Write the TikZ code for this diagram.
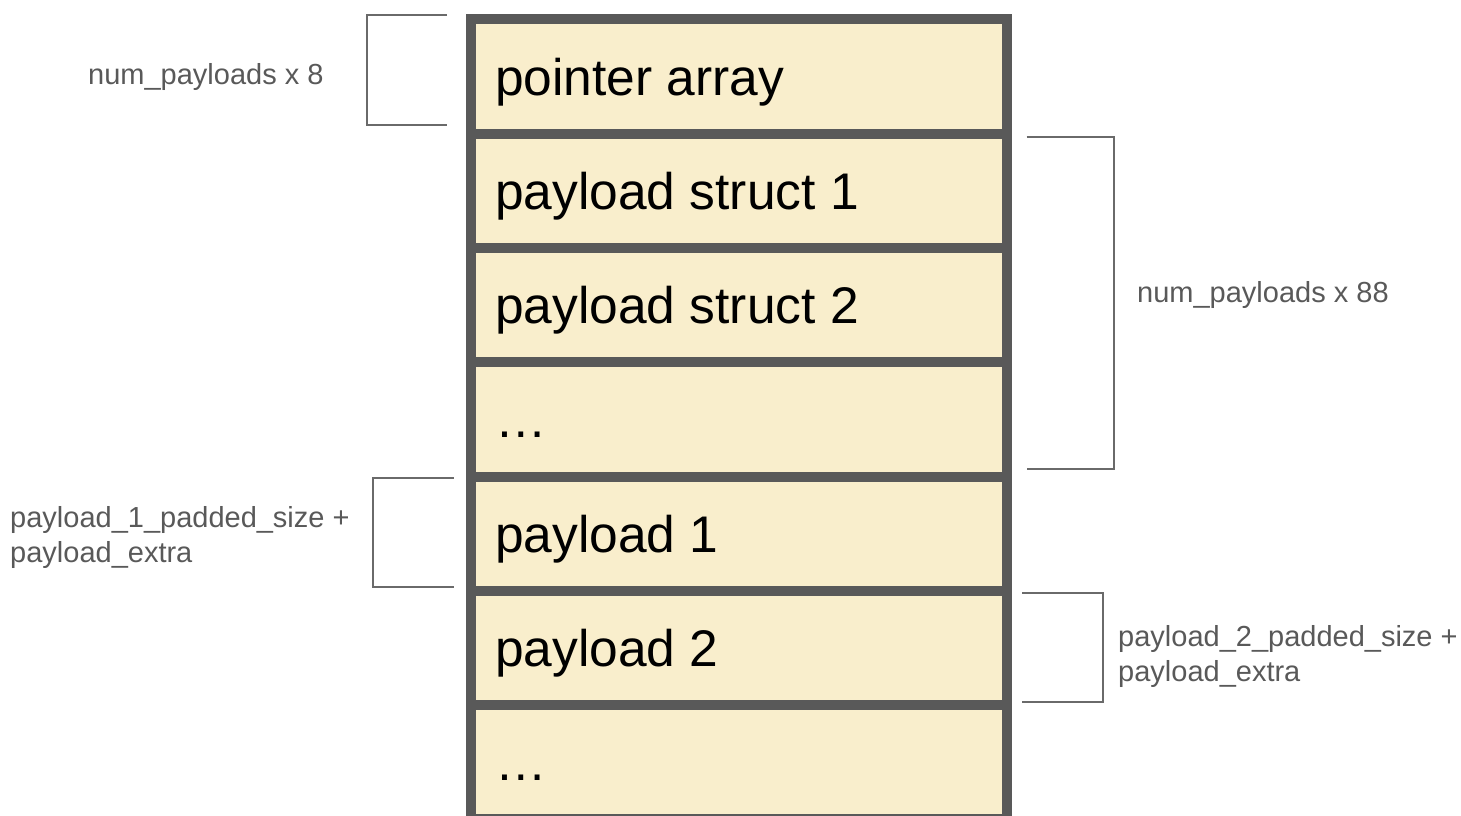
\documentclass[tikz,border=0pt]{standalone}
\usepackage{fontspec}
\setmainfont{Liberation Sans}
\definecolor{cellfill}{HTML}{F9EECC}
\definecolor{cellline}{HTML}{595959}
\definecolor{brace}{HTML}{6A6A6A}
\definecolor{note}{HTML}{595959}
\tikzset{
  cell/.style={draw=cellline, fill=cellfill, line width=10pt, rectangle,
    minimum width=536pt, minimum height=114.25pt, inner sep=0pt, outer sep=0pt,
    anchor=north west},
  celltext/.style={anchor=base west, inner sep=0pt, text=black,
    font=\fontsize{51.5}{60}\selectfont},
  notetext/.style={anchor=base west, inner sep=0pt, text=note, align=left,
    font=\fontsize{29}{34.5}\selectfont},
  bracket/.style={draw=brace, line width=2pt, line join=miter}
}
\begin{document}
\begin{tikzpicture}[x=1pt, y=-1pt]
\useasboundingbox (0,0) rectangle (1461,816);

% memory layout column
\node[cell] (c1) at (471,19.5) {};
\node[cell] (c2) at (471,133.75) {};
\node[cell] (c3) at (471,248) {};
\node[cell] (c4) at (471,362.25) {};
\node[cell] (c5) at (471,476.5) {};
\node[cell] (c6) at (471,590.75) {};
\node[cell] (c7) at (471,705) {};

\node[celltext] (t1) at ([xshift=24pt,yshift=-18.5pt]c1.west) {pointer array};
\node[celltext] (t2) at ([xshift=24pt,yshift=-18.5pt]c2.west) {payload struct 1};
\node[celltext] (t3) at ([xshift=24pt,yshift=-18.5pt]c3.west) {payload struct 2};
\node[celltext] (t4) at ([xshift=24pt,yshift=-18.5pt]c4.west) {…};
\node[celltext] (t5) at ([xshift=24pt,yshift=-18.5pt]c5.west) {payload 1};
\node[celltext] (t6) at ([xshift=24pt,yshift=-18.5pt]c6.west) {payload 2};
\node[celltext] (t7) at ([xshift=24pt,yshift=-18.5pt]c7.west) {…};

% size brackets
\coordinate (b1a) at (447,15.5);   \coordinate (b1b) at (447,125);
\draw[bracket] (b1a) -- (366.5,15.5) -- (366.5,125) -- (b1b);
\coordinate (b2a) at (1026.5,137); \coordinate (b2b) at (1026.5,469);
\draw[bracket] (b2a) -- (1114,137) -- (1114,469) -- (b2b);
\coordinate (b3a) at (453.5,478);  \coordinate (b3b) at (453.5,586.5);
\draw[bracket] (b3a) -- (373,478) -- (373,586.5) -- (b3b);
\coordinate (b4a) at (1022,593);   \coordinate (b4b) at (1022,701.5);
\draw[bracket] (b4a) -- (1103,593) -- (1103,701.5) -- (b4b);

% size annotations (multi-line ones are placed by their last baseline)
\node[notetext] (n1) at (88,84.5) {num\_payloads x 8};
\node[notetext] (n2) at (1137,302) {num\_payloads x 88};
\node[notetext] (n3) at (10,562) {payload\_1\_padded\_size +\\payload\_extra};
\node[notetext] (n4) at (1118,681) {payload\_2\_padded\_size +\\payload\_extra};
\end{tikzpicture}
\end{document}
